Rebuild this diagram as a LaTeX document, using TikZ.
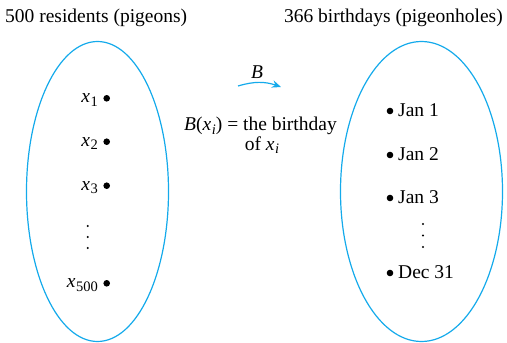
\documentclass[tikz,border=0pt]{standalone}
\usepackage{fontspec}
\setmainfont{Liberation Serif}
\usetikzlibrary{arrows.meta}
\definecolor{setblue}{RGB}{20,170,235}
\newcommand\mysub[1]{\kern0.6pt\raisebox{-0.4ex}{\fontsize{14.5}{15}\selectfont #1}}
\tikzset{
  settxt/.style={font=\fontsize{19.5}{20}\selectfont, inner sep=0pt},
  blob/.style={circle, fill=black, inner sep=0pt, minimum size=6.6pt},
  tinydot/.style={circle, fill=black, inner sep=0pt, minimum size=2.2pt},
  setline/.style={draw=setblue, line width=1.2pt},
}
\begin{document}
\begin{tikzpicture}[x=1pt,y=-1pt]
\useasboundingbox (0,0) rectangle (507,343);
% headers
\node[settxt, anchor=base west] (hl) at (5,22) {500 residents (pigeons)};
\node[settxt, anchor=base east] (hr) at (503,22) {366 birthdays (pigeonholes)};
% ellipses
\draw[setline] (97.5,191.5) ellipse [x radius=71, y radius=150];
\draw[setline] (421.5,191.5) ellipse [x radius=81, y radius=150];
% left elements
\node[blob] (p1) at (106.7,98.3) {};
\node[blob] (p2) at (106.7,141.7) {};
\node[blob] (p3) at (106.7,185.7) {};
\node[blob] (p500) at (106.7,283.3) {};
\node[settxt, anchor=base east] (l1) at (98,102.5) {\textit{x}\mysub{1}};
\node[settxt, anchor=base east] (l2) at (98,146) {\textit{x}\mysub{2}};
\node[settxt, anchor=base east] (l3) at (98,190) {\textit{x}\mysub{3}};
\node[settxt, anchor=base east] (l500) at (98,287.5) {\textit{x}\mysub{500}};
\node[tinydot] (ld1) at (87.7,226) {};
\node[tinydot] (ld2) at (87.7,237) {};
\node[tinydot] (ld3) at (87.7,248) {};
% right elements
\node[blob] (q1) at (390,111) {};
\node[blob] (q2) at (390,155) {};
\node[blob] (q3) at (390,198) {};
\node[blob] (q365) at (390,273) {};
\node[settxt, anchor=base west] (r1) at (398,116) {Jan 1};
\node[settxt, anchor=base west] (r2) at (398,160) {Jan 2};
\node[settxt, anchor=base west] (r3) at (398,203) {Jan 3};
\node[settxt, anchor=base west] (r365) at (398,278) {Dec 31};
\node[tinydot] (rd1) at (423,224) {};
\node[tinydot] (rd2) at (423,235.5) {};
\node[tinydot] (rd3) at (423,247) {};
% function arrow
\coordinate (fa) at (238,86);
\coordinate (fb) at (281,87);
\draw[draw=setblue, line width=1.2pt, -{Stealth[length=9pt,width=7.5pt]}] (fa) to[bend left=18] (fb);
\node[settxt, anchor=base] (bl) at (257,78) {\textit{B}};
\node[settxt, anchor=base] (def1) at (260.5,130.5) {\textit{B}(\textit{x}\mysub{\itshape i}) = the birthday};
\node[settxt, anchor=base] (def2) at (262,150) {of \textit{x}\mysub{\itshape i}};
\end{tikzpicture}
\end{document}
